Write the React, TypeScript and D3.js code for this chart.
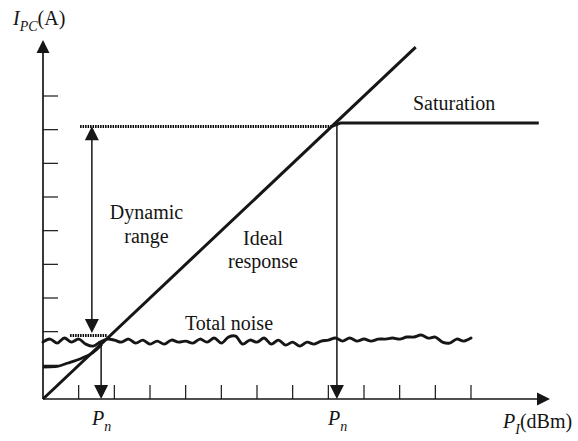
import React from 'react';
import * as d3 from 'd3';

// Axis tick counts (unit steps, no numeric labels in the figure)
const xTicks = [1, 2, 3, 4, 5, 6, 7, 8, 9, 10, 11, 12];
const yTicks = [1, 2, 3, 4, 5, 6, 7, 8, 9];

// Key levels (in tick units)
const pnLow = 1.63; // noise floor crossing
const pnHigh = 8.24; // saturation onset
const satLevel = 8.2;
const noiseLevelTop = 1.9; // lower dotted marker
const idealEnd = 10.45;
const satEnd = 13.9;

// Ideal response (straight line through origin)
const idealResponse = [
    { x: 0, y: 0 },
    { x: idealEnd, y: idealEnd }
];

// Saturation branch
const saturation = [
    { x: 8.1, y: 8.1 },
    { x: 8.35, y: satLevel },
    { x: satEnd, y: satLevel }
];

// Real (total) response near the noise floor
const totalResponse = [
    { x: 0, y: 0.95 },
    { x: 0.35, y: 0.96 },
    { x: 0.7, y: 1.07 },
    { x: 1.1, y: 1.22 },
    { x: 1.4, y: 1.38 },
    { x: 1.65, y: 1.62 }
];

// Total noise trace, sampled every 0.2 units
const noise = [
    1.69, 1.78, 1.66, 1.81, 1.69, 1.78, 1.63, 1.57, 1.69, 1.78, 1.75, 1.69, 1.78, 1.66, 1.75, 1.63,
    1.72, 1.63, 1.75, 1.69, 1.72, 1.66, 1.78, 1.69, 1.81, 1.66, 1.84, 1.87, 1.63, 1.75, 1.69, 1.81,
    1.63, 1.75, 1.6, 1.69, 1.57, 1.69, 1.63, 1.72, 1.75, 1.81, 1.72, 1.81, 1.72, 1.78, 1.72, 1.78,
    1.78, 1.81, 1.78, 1.84, 1.84, 1.9, 1.81, 1.84, 1.69, 1.66, 1.78, 1.72, 1.81
];
const noiseStep = 0.2;

const W = 578;
const H = 441;
const ink = '#161616';
const serif = '"Liberation Serif", "Times New Roman", Times, serif';

export default function App() {
    const x = d3.scaleLinear().domain([0, 12]).range([43, 471]);
    const y = d3.scaleLinear().domain([0, 9]).range([399, 96]);

    const line = d3
        .line<{ x: number; y: number }>()
        .x((d) => x(d.x))
        .y((d) => y(d.y));

    const noiseLine = d3
        .line<number>()
        .x((_, i) => x(i * noiseStep))
        .y((d) => y(d))
        .curve(d3.curveCatmullRom.alpha(0.5));

    const smooth = d3
        .line<{ x: number; y: number }>()
        .x((d) => x(d.x))
        .y((d) => y(d.y))
        .curve(d3.curveMonotoneX);

    // arrow head pointing in direction (dx, dy) with tip at (tx, ty)
    const head = (tx: number, ty: number, dx: number, dy: number, len = 13, half = 6.5) => {
        const bx = tx - dx * len;
        const by = ty - dy * len;
        const px = -dy * half;
        const py = dx * half;
        return `M${tx},${ty}L${bx + px},${by + py}L${bx - px},${by - py}Z`;
    };

    const x0 = x(0);
    const y0 = y(0);
    const yAxisTop = 40;
    const xAxisEnd = 550;

    const drX = x(1.37);
    const drTop = y(8.1);
    const drBottom = y(1.96);

    return (
        <svg
            width={W}
            height={H}
            viewBox={`0 0 ${W} ${H}`}
            style={{ position: 'absolute', left: 0, top: 0, background: 'white', fontFamily: serif }}
        >
            {/* axes */}
            <line x1={x0} y1={y0} x2={x0} y2={yAxisTop + 10} stroke={ink} strokeWidth={1.7} />
            <path d={head(x0, yAxisTop, 0, -1)} fill={ink} />
            <line x1={x0} y1={y0} x2={xAxisEnd - 10} y2={y0} stroke={ink} strokeWidth={1.7} />
            <path d={head(xAxisEnd, y0, 1, 0)} fill={ink} />

            {/* ticks */}
            {xTicks.map((t) => (
                <line key={'xt' + t} x1={x(t)} x2={x(t)} y1={y0} y2={y0 - 14} stroke={ink} strokeWidth={1.2} />
            ))}
            {yTicks.map((t) => (
                <line key={'yt' + t} x1={x0} x2={x0 + 15} y1={y(t)} y2={y(t)} stroke={ink} strokeWidth={1.2} />
            ))}

            {/* dotted level markers */}
            <line
                x1={x(1.04)}
                x2={x(8.12)}
                y1={Math.round(y(8.1)) + 0.5}
                y2={Math.round(y(8.1)) + 0.5}
                stroke="#000"
                strokeWidth={3}
                strokeDasharray="1.5,1"
            />
            <line
                x1={x(0.76)}
                x2={x(1.8)}
                y1={Math.round(y(noiseLevelTop)) + 0.5}
                y2={Math.round(y(noiseLevelTop)) + 0.5}
                stroke="#000"
                strokeWidth={3}
                strokeDasharray="1.5,1"
            />

            {/* dynamic range double arrow */}
            <line x1={drX} x2={drX} y1={drTop + 10} y2={drBottom - 10} stroke={ink} strokeWidth={1.5} />
            <path d={head(drX, drTop, 0, -1, 14, 7)} fill={ink} />
            <path d={head(drX, drBottom, 0, 1, 14, 7)} fill={ink} />

            {/* P_n drop lines */}
            <line x1={x(pnLow)} x2={x(pnLow)} y1={y(pnLow)} y2={y0 - 10} stroke={ink} strokeWidth={1.5} />
            <path d={head(x(pnLow), y0, 0, 1, 14, 7)} fill={ink} />
            <line x1={x(pnHigh)} x2={x(pnHigh)} y1={y(satLevel)} y2={y0 - 10} stroke={ink} strokeWidth={1.5} />
            <path d={head(x(pnHigh), y0, 0, 1, 14, 7)} fill={ink} />

            {/* curves */}
            <path d={line(idealResponse)!} fill="none" stroke={ink} strokeWidth={3} />
            <path d={line(saturation)!} fill="none" stroke={ink} strokeWidth={3} strokeLinejoin="round" />
            <path d={smooth(totalResponse)!} fill="none" stroke={ink} strokeWidth={2.8} />
            <path d={noiseLine(noise)!} fill="none" stroke={ink} strokeWidth={2.9} strokeLinejoin="round" strokeLinecap="round" />

            {/* labels */}
            <g fill="#141414" fontSize={20}>
                <text x={13} y={25}>
                    <tspan fontStyle="italic">I</tspan>
                    <tspan fontStyle="italic" fontSize={14} dy={6}>PC</tspan>
                    <tspan dy={-6}>(A)</tspan>
                </text>
                <text x={503} y={428}>
                    <tspan fontStyle="italic">P</tspan>
                    <tspan fontStyle="italic" fontSize={14} dy={6}>I</tspan>
                    <tspan dy={-6}>(dBm)</tspan>
                </text>
                <text x={92} y={425}>
                    <tspan fontStyle="italic">P</tspan>
                    <tspan fontStyle="italic" fontSize={14} dy={6}>n</tspan>
                </text>
                <text x={328} y={425}>
                    <tspan fontStyle="italic">P</tspan>
                    <tspan fontStyle="italic" fontSize={14} dy={6}>n</tspan>
                </text>
                <text x={146.5} y={219} textAnchor="middle">Dynamic</text>
                <text x={146.5} y={243} textAnchor="middle">range</text>
                <text x={263} y={245} textAnchor="middle">Ideal</text>
                <text x={263} y={268} textAnchor="middle">response</text>
                <text x={229} y={330} textAnchor="middle">Total noise</text>
                <text x={413} y={110}>Saturation</text>
            </g>
        </svg>
    );
}
